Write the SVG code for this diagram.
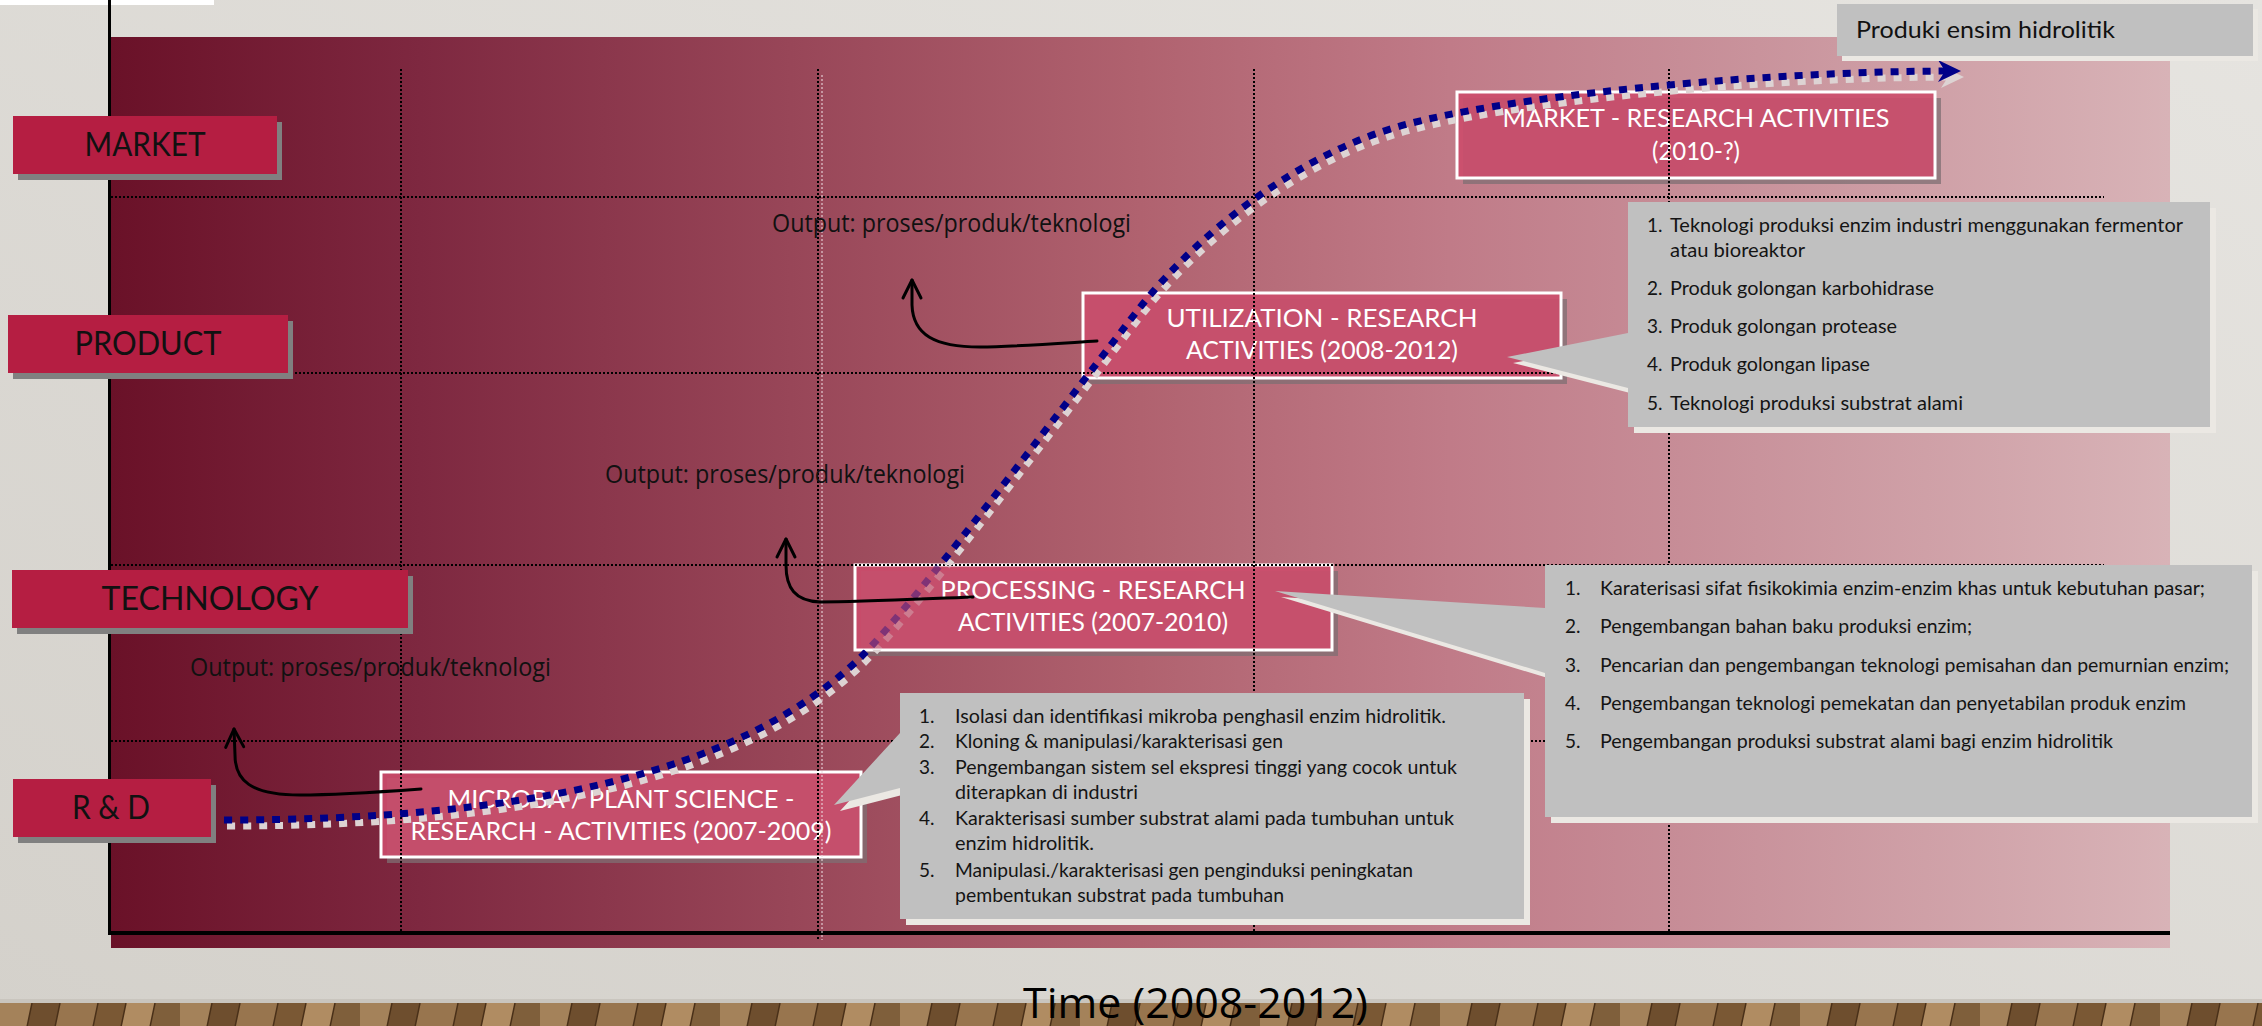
<svg xmlns="http://www.w3.org/2000/svg" width="2262" height="1026" viewBox="0 0 2262 1026">
<defs>
  <linearGradient id="bg" x1="0" y1="1" x2="1" y2="0">
    <stop offset="0" stop-color="#d4d1cb"/>
    <stop offset="1" stop-color="#e6e4e0"/>
  </linearGradient>
  <linearGradient id="panel" x1="0" y1="0" x2="1" y2="0">
    <stop offset="0" stop-color="#6a1128"/>
    <stop offset="0.15" stop-color="#7e2840"/>
    <stop offset="0.33" stop-color="#984658"/>
    <stop offset="0.5" stop-color="#b0626f"/>
    <stop offset="0.65" stop-color="#c07b88"/>
    <stop offset="0.8" stop-color="#c9939c"/>
    <stop offset="1" stop-color="#d8b3b7"/>
  </linearGradient>
  <pattern id="wood" x="0" y="1003" width="180" height="24" patternUnits="userSpaceOnUse">
    <rect width="180" height="24" fill="#8a6842"/>
    <polygon points="0,0 32,0 27,24 -5,24" fill="#a4825a"/>
    <polygon points="32,0 60,0 55,24 27,24" fill="#6e4e2e"/>
    <polygon points="60,0 98,0 93,24 55,24" fill="#98754e"/>
    <polygon points="98,0 126,0 121,24 93,24" fill="#7a5834"/>
    <polygon points="126,0 155,0 150,24 121,24" fill="#b08c62"/>
    <polygon points="155,0 185,0 180,24 150,24" fill="#7f5f3b"/>
    <path d="M32,0 L27,24 M60,0 L55,24 M98,0 L93,24 M126,0 L121,24 M155,0 L150,24" stroke="#4a3018" stroke-width="1.5"/>
  </pattern>
  <mask id="fade" maskUnits="userSpaceOnUse" x="0" y="0" width="2262" height="1026">
    <rect x="0" y="0" width="2262" height="1026" fill="#fff"/>
    <rect x="855" y="565" width="477" height="85" fill="#5a5a5a"/>
  </mask>
  <marker id="oa" markerUnits="userSpaceOnUse" viewBox="-22 -12 26 24" markerWidth="26" markerHeight="24" refX="0" refY="0" orient="auto">
    <path d="M-18,-9 L0,0 L-18,9" fill="none" stroke="#000" stroke-width="3" stroke-linecap="round" stroke-linejoin="round"/>
  </marker>
  <style>
    .lb { fill:#b51e42; }
    .lsh { fill:#808080; }
    .lt { font-family:Lato, "Open Sans", sans-serif; font-size:32px; fill:#111; text-anchor:middle; }
    .rb { fill:#cc4c6c; fill-opacity:0.9; stroke:#fff; stroke-width:3; }
    .rsh { fill:#7f6f73; fill-opacity:0.75; }
    .rt { font-family:Lato, "Open Sans", sans-serif; font-size:25px; fill:#fff; text-anchor:middle; }
    .co { fill:#c0c0c0; }
    .cosh { fill:#ebe8e3; }
    .li { font-family:Lato, "Open Sans", sans-serif; font-size:19px; fill:#141414; }
    .out { font-family:"Open Sans", sans-serif; font-size:25px; fill:#111; }
    .grid { fill:none; stroke:#000; stroke-width:2; stroke-dasharray:2 2; }
    .sc { fill:none; stroke:#000088; stroke-width:7; stroke-dasharray:8 8; }
    .scsh { fill:none; stroke:#ddd3d3; stroke-width:7; stroke-dasharray:8 8; }
    .oarr { fill:none; stroke:#000; stroke-width:3; stroke-linecap:round; marker-end:url(#oa); }
  </style>
</defs>

<!-- background -->
<rect x="0" y="0" width="2262" height="1026" fill="url(#bg)"/>
<rect x="0" y="999" width="2262" height="4" fill="#c9c5be"/>
<rect x="0" y="1003" width="2262" height="23" fill="url(#wood)"/>
<rect x="0" y="0" width="214" height="5" fill="#ffffff"/>

<!-- chart panel -->
<rect x="111" y="37" width="2059" height="911" fill="url(#panel)"/>
<rect x="108" y="0" width="3" height="935" fill="#000"/>
<rect x="108" y="931" width="2062" height="4" fill="#000"/>

<!-- research activity nodes -->
<g id="node-microba">
  <rect class="rsh" x="387" y="778" width="480" height="85"/>
  <rect class="rb" x="381" y="772" width="480" height="85"/>
  <text class="rt" x="621" y="808" textLength="347" lengthAdjust="spacingAndGlyphs">MICROBA / PLANT SCIENCE -</text>
  <text class="rt" x="621" y="840" textLength="421" lengthAdjust="spacingAndGlyphs">RESEARCH - ACTIVITIES (2007-2009)</text>
</g>
<g id="node-processing">
  <rect class="rsh" x="861" y="571" width="477" height="85"/>
  <rect class="rb" x="855" y="565" width="477" height="85"/>
  <text class="rt" x="1093" y="599" textLength="305" lengthAdjust="spacingAndGlyphs">PROCESSING - RESEARCH</text>
  <text class="rt" x="1093" y="631" textLength="270" lengthAdjust="spacingAndGlyphs">ACTIVITIES (2007-2010)</text>
</g>
<g id="node-utilization">
  <rect class="rsh" x="1089" y="299" width="478" height="85"/>
  <rect class="rb" x="1083" y="293" width="478" height="85"/>
  <text class="rt" x="1322" y="327" textLength="311" lengthAdjust="spacingAndGlyphs">UTILIZATION - RESEARCH</text>
  <text class="rt" x="1322" y="359" textLength="272" lengthAdjust="spacingAndGlyphs">ACTIVITIES (2008-2012)</text>
</g>
<g id="node-market-research">
  <rect class="rsh" x="1463" y="98" width="478" height="86"/>
  <rect class="rb" x="1457" y="92" width="478" height="86"/>
  <text class="rt" x="1696" y="127" textLength="387" lengthAdjust="spacingAndGlyphs">MARKET - RESEARCH ACTIVITIES</text>
  <text class="rt" x="1696" y="160" textLength="88" lengthAdjust="spacingAndGlyphs">(2010-?)</text>
</g>

<!-- grid -->
<g id="grid">
  <path class="grid" d="M401,69V933 M818,69V940 M1254,69V933 M1669,69V933 M111,197H2104 M111,373H2104 M111,565H2104 M111,741H2104"/>
  <path d="M822,75V940" fill="none" stroke="#ecdde1" stroke-width="1.5" stroke-dasharray="2 2" stroke-opacity="0.7"/>
</g>

<!-- outputs -->
<g id="node-output-rd">
  <text class="out" x="190" y="676" textLength="361" lengthAdjust="spacingAndGlyphs">Output: proses/produk/teknologi</text>
</g>
<g id="node-output-tech">
  <text class="out" x="605" y="483" textLength="360" lengthAdjust="spacingAndGlyphs">Output: proses/produk/teknologi</text>
</g>
<g id="node-output-product">
  <text class="out" x="772" y="232" textLength="359" lengthAdjust="spacingAndGlyphs">Output: proses/produk/teknologi</text>
</g>

<!-- connectors -->
<g id="connectors">
  <g mask="url(#fade)">
    <g transform="translate(3,6)">
      <path class="scsh" d="M224,820 C520,820 740,775 861,657 C921,597 1083,380 1138,310 C1200,230 1300,155 1397,127 C1500,97 1750,72 1946,71"/>
      <polygon points="1961,71 1938,60 1945,71 1938,82" fill="#ddd3d3"/>
    </g>
    <path class="sc" d="M224,820 C520,820 740,775 861,657 C921,597 1083,380 1138,310 C1200,230 1300,155 1397,127 C1500,97 1750,72 1946,71"/>
    <polygon points="1961,71 1938,60 1945,71 1938,82" fill="#000088"/>
  </g>
  <path class="oarr" d="M421,789 C380,792 330,795 300,795 C250,795 235,780 235,755 L234,729"/>
  <path class="oarr" d="M973,597 C920,599 860,602 820,602 C795,601 786,588 786,565 L786,539"/>
  <path class="oarr" d="M1097,341 C1050,344 1010,347 980,347 C935,347 913,335 912,305 L912,280"/>
</g>

<!-- callouts -->
<g id="callout-microba">
  <path class="cosh" transform="translate(6,6)" d="M900,693 H1524 V919 H900 V788 L834,805 L900,733 Z"/>
  <path class="co" d="M900,693 H1524 V919 H900 V788 L834,805 L900,733 Z"/>
  <text class="li" x="919" y="723">1.</text><text class="li" x="955" y="723" textLength="491" lengthAdjust="spacingAndGlyphs">Isolasi dan identifikasi mikroba penghasil enzim hidrolitik.</text>
  <text class="li" x="919" y="748">2.</text><text class="li" x="955" y="748" textLength="328" lengthAdjust="spacingAndGlyphs">Kloning &amp; manipulasi/karakterisasi gen</text>
  <text class="li" x="919" y="774">3.</text><text class="li" x="955" y="774" textLength="502" lengthAdjust="spacingAndGlyphs">Pengembangan sistem sel ekspresi tinggi yang cocok untuk</text>
  <text class="li" x="955" y="799" textLength="183" lengthAdjust="spacingAndGlyphs">diterapkan di industri</text>
  <text class="li" x="919" y="825">4.</text><text class="li" x="955" y="825" textLength="499" lengthAdjust="spacingAndGlyphs">Karakterisasi sumber substrat alami pada tumbuhan untuk</text>
  <text class="li" x="955" y="850" textLength="139" lengthAdjust="spacingAndGlyphs">enzim hidrolitik.</text>
  <text class="li" x="919" y="877">5.</text><text class="li" x="955" y="877" textLength="458" lengthAdjust="spacingAndGlyphs">Manipulasi./karakterisasi gen penginduksi peningkatan</text>
  <text class="li" x="955" y="902" textLength="329" lengthAdjust="spacingAndGlyphs">pembentukan substrat pada tumbuhan</text>
</g>
<g id="callout-processing">
  <path class="cosh" transform="translate(6,6)" d="M1545,565 H2252 V817 H1545 V673 L1275,591 L1545,608 Z"/>
  <path class="co" d="M1545,565 H2252 V817 H1545 V673 L1275,591 L1545,608 Z"/>
  <text class="li" x="1565" y="595">1.</text><text class="li" x="1600" y="595" textLength="605" lengthAdjust="spacingAndGlyphs">Karaterisasi sifat fisikokimia enzim-enzim khas untuk kebutuhan pasar;</text>
  <text class="li" x="1565" y="633">2.</text><text class="li" x="1600" y="633" textLength="372" lengthAdjust="spacingAndGlyphs">Pengembangan bahan baku produksi enzim;</text>
  <text class="li" x="1565" y="672">3.</text><text class="li" x="1600" y="672" textLength="629" lengthAdjust="spacingAndGlyphs">Pencarian dan pengembangan teknologi pemisahan dan pemurnian enzim;</text>
  <text class="li" x="1565" y="710">4.</text><text class="li" x="1600" y="710" textLength="586" lengthAdjust="spacingAndGlyphs">Pengembangan teknologi pemekatan dan penyetabilan produk enzim</text>
  <text class="li" x="1565" y="748">5.</text><text class="li" x="1600" y="748" textLength="513" lengthAdjust="spacingAndGlyphs">Pengembangan produksi substrat alami bagi enzim hidrolitik</text>
</g>
<g id="callout-utilization">
  <path class="cosh" transform="translate(6,6)" d="M1628,202 H2210 V427 H1628 V388 L1507,357 L1628,333 Z"/>
  <path class="co" d="M1628,202 H2210 V427 H1628 V388 L1507,357 L1628,333 Z"/>
  <text class="li" x="1647" y="232">1.</text><text class="li" x="1670" y="232" textLength="513" lengthAdjust="spacingAndGlyphs">Teknologi produksi enzim industri menggunakan fermentor</text>
  <text class="li" x="1670" y="257" textLength="135" lengthAdjust="spacingAndGlyphs">atau bioreaktor</text>
  <text class="li" x="1647" y="295">2.</text><text class="li" x="1670" y="295" textLength="264" lengthAdjust="spacingAndGlyphs">Produk golongan karbohidrase</text>
  <text class="li" x="1647" y="333">3.</text><text class="li" x="1670" y="333" textLength="227" lengthAdjust="spacingAndGlyphs">Produk golongan protease</text>
  <text class="li" x="1647" y="371">4.</text><text class="li" x="1670" y="371" textLength="200" lengthAdjust="spacingAndGlyphs">Produk golongan lipase</text>
  <text class="li" x="1647" y="410">5.</text><text class="li" x="1670" y="410" textLength="293" lengthAdjust="spacingAndGlyphs">Teknologi produksi substrat alami</text>
</g>

<!-- final product -->
<g id="node-produk">
  <rect class="cosh" x="1842" y="9" width="416" height="52"/>
  <rect class="co" x="1837" y="4" width="416" height="52"/>
  <text x="1856" y="38" font-family="Lato, 'Open Sans', sans-serif" font-size="24" fill="#111" textLength="259" lengthAdjust="spacingAndGlyphs">Produki ensim hidrolitik</text>
</g>

<!-- axis labels -->
<g id="lbl-market">
  <rect class="lsh" x="18" y="122" width="264" height="58"/>
  <rect class="lb" x="13" y="116" width="264" height="58"/>
  <text class="lt" x="145" y="156" textLength="121" lengthAdjust="spacingAndGlyphs">MARKET</text>
</g>
<g id="lbl-product">
  <rect class="lsh" x="13" y="321" width="280" height="58"/>
  <rect class="lb" x="8" y="315" width="280" height="58"/>
  <text class="lt" x="148" y="355" textLength="147" lengthAdjust="spacingAndGlyphs">PRODUCT</text>
</g>
<g id="lbl-technology">
  <rect class="lsh" x="17" y="576" width="396" height="58"/>
  <rect class="lb" x="12" y="570" width="396" height="58"/>
  <text class="lt" x="210" y="610" textLength="217" lengthAdjust="spacingAndGlyphs">TECHNOLOGY</text>
</g>
<g id="lbl-rd">
  <rect class="lsh" x="18" y="785" width="198" height="58"/>
  <rect class="lb" x="13" y="779" width="198" height="58"/>
  <text class="lt" x="111" y="819" textLength="78" lengthAdjust="spacingAndGlyphs">R &amp; D</text>
</g>

<g id="axis-time">
  <text x="1023" y="1018" font-family="'Open Sans', sans-serif" font-size="42" fill="#000" textLength="345" lengthAdjust="spacingAndGlyphs">Time (2008-2012)</text>
</g>
</svg>
